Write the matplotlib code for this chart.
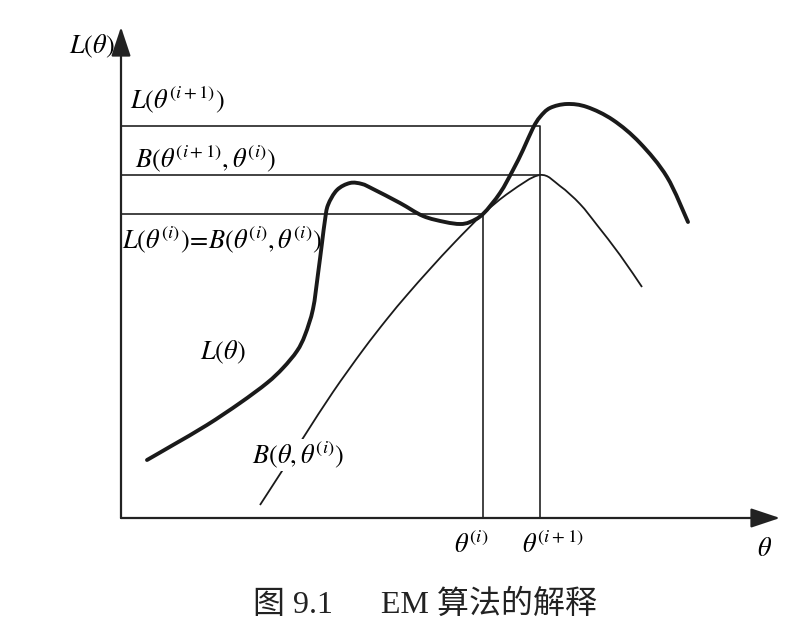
import matplotlib.pyplot as plt
from matplotlib.path import Path
from matplotlib.patches import PathPatch

plt.rcParams['mathtext.fontset'] = 'stix'
plt.rcParams['font.family'] = ['Liberation Serif', 'Noto Sans CJK SC']

# log-likelihood L(theta)
theta_L = [26, 52, 86, 119, 146, 162, 176, 184, 192, 197, 201, 204, 207, 216, 229, 241, 252,
           279, 302, 324, 339, 349, 362, 379, 392, 402, 412, 419, 429, 446, 466, 492, 519,
           546, 567]
L_vals = [58, 73, 93, 115, 135, 150, 167, 183, 209, 244, 275, 298, 313, 328, 335, 334, 329,
          315, 302, 296, 294, 296, 304, 325, 348, 368, 390, 401, 410, 414, 411, 398, 375,
          341, 296]

# lower bound B(theta, theta_i)
theta_B = [139, 161, 184, 212, 242, 266, 286, 309, 334, 362, 389, 419, 439, 459, 476, 499, 521]
B_vals = [13, 47, 83, 126, 168, 199, 223, 249, 276, 304, 326, 343, 332, 314, 293, 263, 231]

theta_i = 362
theta_next = 419
L_i = 304
B_next = 343
L_next = 392


def smooth_path(xs, ys):
    # catmull-rom through the read points, drawn as cubic beziers
    pts = list(zip(xs, ys))
    verts = [pts[0]]
    codes = [Path.MOVETO]
    for k in range(len(pts) - 1):
        p0 = pts[k - 1] if k > 0 else pts[k]
        p1 = pts[k]
        p2 = pts[k + 1]
        p3 = pts[k + 2] if k + 2 < len(pts) else pts[k + 1]
        c1 = (p1[0] + (p2[0] - p0[0]) / 6, p1[1] + (p2[1] - p0[1]) / 6)
        c2 = (p2[0] - (p3[0] - p1[0]) / 6, p2[1] - (p3[1] - p1[1]) / 6)
        verts += [c1, c2, p2]
        codes += [Path.CURVE4] * 3
    return Path(verts, codes)


fig = plt.figure(figsize=(8.03, 6.36), dpi=100)
ax = fig.add_axes([121 / 803, 118 / 636, 660 / 803, 492 / 636])
ax.set_xlim(0, 660)
ax.set_ylim(0, 492)
ax.axis('off')

# axes with arrow heads
arrow = dict(arrowstyle='-|>,head_length=0.9,head_width=0.3', color='#222222', lw=1.6,
             mutation_scale=20, shrinkA=0, shrinkB=0)
ax.annotate('', xy=(659, 0), xytext=(0, 0), arrowprops=arrow, annotation_clip=False)
ax.annotate('', xy=(0, 491), xytext=(0, 0), arrowprops=arrow, annotation_clip=False)

# guide lines
ax.plot([0, theta_next, theta_next], [L_next, L_next, 0], color='#222222', lw=1.2)
ax.plot([0, theta_next], [B_next, B_next], color='#222222', lw=1.2)
ax.plot([0, theta_i, theta_i], [L_i, L_i, 0], color='#222222', lw=1.2)

ax.add_patch(PathPatch(smooth_path(theta_B, B_vals), fill=False, edgecolor='#1a1a1a',
                       lw=1.3, capstyle='butt'))
ax.add_patch(PathPatch(smooth_path(theta_L, L_vals), fill=False, edgecolor='#1a1a1a',
                       lw=2.8, capstyle='round', zorder=4))

fs = 19
ax.text(-6, 472, r'$L(\theta)$', fontsize=fs, ha='right', va='center')
ax.text(9, 418, r'$L(\theta^{(i+1)})$', fontsize=fs, ha='left', va='center')
ax.text(14, 359, r'$B(\theta^{(i+1)},\theta^{(i)})$', fontsize=fs, ha='left', va='center')
ax.text(1, 278, r'$L(\theta^{(i)})\!=\!B(\theta^{(i)},\theta^{(i)})$', fontsize=fs, ha='left', va='center')
ax.text(79, 166, r'$L(\theta)$', fontsize=fs, ha='left', va='center')
ax.text(131, 63, r'$B(\theta,\theta^{(i)})$', fontsize=fs, ha='left', va='center', zorder=5,
        bbox=dict(facecolor='white', edgecolor='none', pad=0.5))
ax.text(theta_i - 12, -27, r'$\theta^{(i)}$', fontsize=fs, ha='center', va='center')
ax.text(theta_next + 13, -27, r'$\theta^{(i+1)}$', fontsize=fs, ha='center', va='center')
ax.text(644, -31, r'$\theta$', fontsize=fs, ha='center', va='center')

fig.text(425 / 803, 1 - 605 / 636, '图 9.1      EM 算法的解释', fontsize=23, ha='center', va='center',
         color='#222222')

fig.savefig('out.png', dpi=100)
